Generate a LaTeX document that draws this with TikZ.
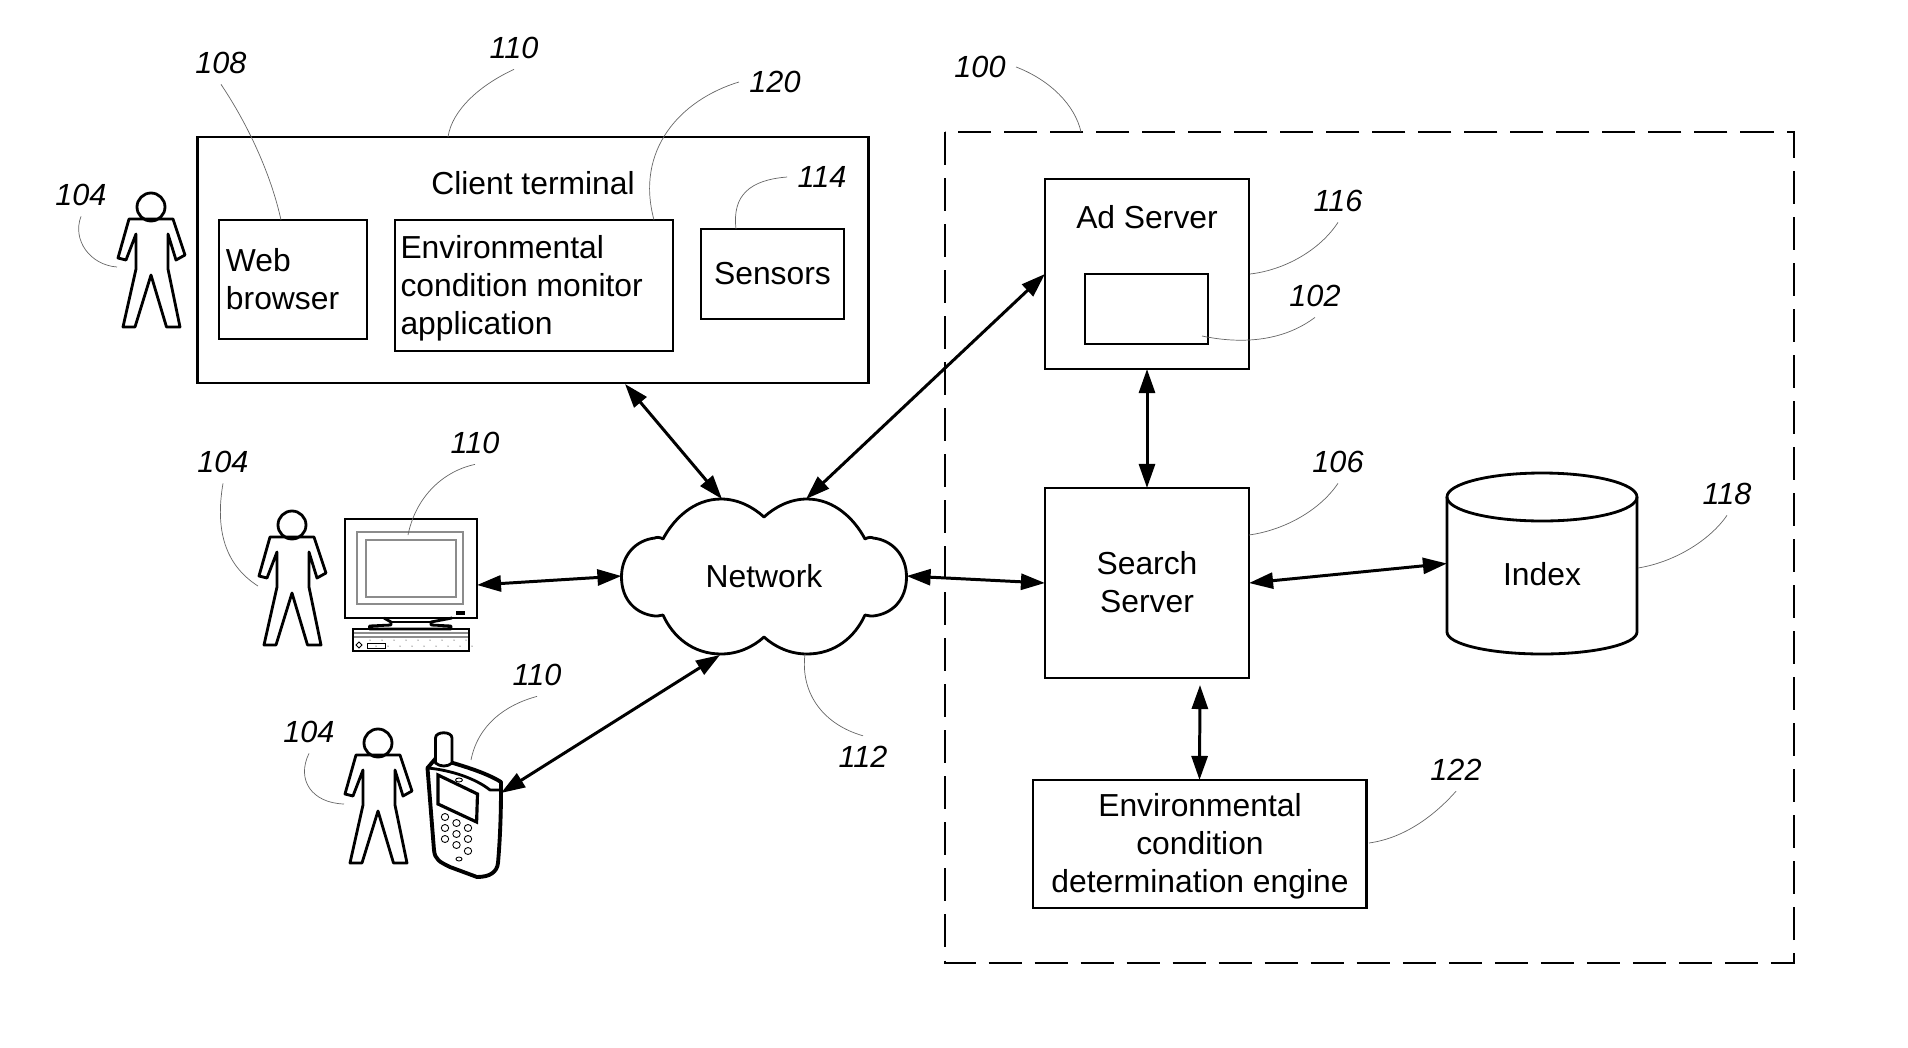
\documentclass[tikz,border=0pt]{standalone}
\usepackage{fontspec}
\setmainfont{Liberation Sans}
\usetikzlibrary{arrows.meta}

\tikzset{
    person/.pic={
        \draw[outline] (0,0) ellipse [x radius=14, y radius=14];
        \draw[outline] (-22,12) -- (-33,51) -- (-25,53) -- (-15,27) -- (-15,62) -- (-28,120) -- (-16,120)
            -- (0,68) -- (15.5,120) -- (29,120) -- (17,62) -- (17,27) -- (25,53) -- (34,48) -- (22,12) -- cycle;
    }
}

\begin{document}
\begin{tikzpicture}[x=.01cm, y=-.01cm, >={Triangle[length=.24cm,width=.16cm]},
    every node/.style={font=\fontsize{9.05}{10.8}\selectfont, outer sep=0pt},
    outline/.style={line width=.8pt, line join=round},
    box/.style={draw, line width=.8pt, inner sep=0pt, align=center},
    textbox/.style={draw, line width=.8pt, inner xsep=.07cm, inner ysep=0pt, align=left},
    refnum/.style={font=\fontsize{8.7}{10.8}\selectfont\itshape, inner sep=3pt},
    leader/.style={line width=.2pt, black!60},
    link/.style={<->, line width=.85pt},
    fine/.style={line width=.3pt, black!45}
    ]
\useasboundingbox (0,0) rectangle (1908,1048);

% client terminal
\node[box, minimum width=6.70cm, minimum height=2.46cm] (client) at (533,260) {};
\node (clientname) at (533,183) {Client terminal};
\node[textbox, text width=1.34cm, minimum height=1.19cm] (web) at (293,279.5) {Web\\browser};
\node[box, minimum width=2.78cm, minimum height=1.31cm] (monitorapp) at (534,285.5) {};
\node[align=left, anchor=west, inner sep=0pt] (monitorname) at (400.5,288.5) {Environmental\\condition monitor\\application};
\node[box, minimum width=1.43cm, minimum height=.90cm] (sensors) at (772.5,274) {Sensors};

% users
\pic at (151,207) {person};
\pic at (292,525) {person};
\pic at (378,743) {person};

% desktop
\node[box, minimum width=1.32cm, minimum height=.99cm] (monitor) at (411,568.5) {};
\draw[fine] (357,604) -- (357,532) -- (463,532) -- (463,604) -- cycle;
\draw[fine] (366,540) rectangle (456,597);
\draw[line width=.4pt] (457,612) rectangle (464,614);
\draw[outline] (384,618) -- (391,622) -- (391,625) -- (369.5,626) -- (369.5,629) -- (451,629) -- (451,626) -- (431,625) -- (431,622) -- (452,618);
\draw[line width=.3pt] (391,622) -- (431,622);
\node[box, minimum width=1.16cm, minimum height=.22cm] (keyboard) at (411,640) {};
\draw[fine] (354,633) -- (468,633) (354,637) -- (468,637);
\draw[line width=.25pt] (359,642) -- (362,645) -- (359,648) -- (356,645) -- cycle;
\draw[line width=.25pt] (367,643) rectangle (385,648);
\foreach \kx in {370,382,...,466} {
    \fill (\kx,640) circle [radius=.5];
    \fill (\kx+6,646) circle [radius=.5];
}

% phone
\draw[line width=1.1pt, line join=round] (427.5,768) -- (436,758) .. controls (460,765) and (485,772) .. (501,782) -- (501,790)
    .. controls (501,815) and (500,840) .. (498,863) .. controls (497,872) and (490,877) .. (477,877)
    -- (450,867) .. controls (440,862) and (435,860) .. (434,850) -- cycle;
\draw[outline] (427.5,768) .. controls (450,770) and (475,778) .. (490,790) -- (501,790);
\draw[outline, fill=white] (435.5,738) .. controls (435.5,731) and (452,731) .. (452,738) -- (452,763) .. controls (448,767) and (440,767) .. (435.5,763) -- cycle;
\draw[line width=.9pt] (438,775) -- (477.5,794) -- (476.6,822) -- (438,804) -- cycle;
\foreach \kx/\ky in {445/817,445/828,445/839,456.5/823,456.5/834,456.5/845,468/828,468/839,468/851} {
    \draw[line width=.25pt] (\kx,\ky) ellipse [x radius=3.7, y radius=3.5];
}
\draw[line width=.25pt] (459,780) ellipse [x radius=3.5, y radius=2];
\draw[line width=.25pt] (459,859) ellipse [x radius=3, y radius=2];

% network cloud
\draw[outline] (764,517) .. controls (775,507) and (790,499) .. (807,499)
    .. controls (835,499) and (855,520) .. (865,539) .. controls (868,537) and (872,537) .. (873,538)
    .. controls (892,540) and (906.5,555) .. (906.5,577) .. controls (906.5,600) and (892,614) .. (873,616)
    .. controls (872,616) and (868,616) .. (865,615) .. controls (855,637) and (835,654) .. (807,654)
    .. controls (790,654) and (775,647) .. (764,637) .. controls (753,647) and (738,654) .. (721,654)
    .. controls (693,654) and (673,637) .. (663,615) .. controls (660,616) and (656,616) .. (655,616)
    .. controls (636,614) and (621.5,600) .. (621.5,577) .. controls (621.5,555) and (636,540) .. (655,538)
    .. controls (656,537) and (660,537) .. (663,539) .. controls (673,520) and (693,499) .. (721,499)
    .. controls (738,499) and (753,507) .. cycle;
\node[minimum width=2.85cm, minimum height=1.55cm, inner sep=0pt] (network) at (764,576) {Network};

% server side
\draw[line width=.8pt, dash pattern=on .33cm off .13cm] (945,132) rectangle (1794,963);
\node[box, minimum width=2.04cm, minimum height=1.90cm] (adserver) at (1147,274) {};
\node (adname) at (1147,217) {Ad Server};
\node[box, minimum width=1.23cm, minimum height=.70cm] (adunit) at (1146.5,309) {};
\node[box, minimum width=2.04cm, minimum height=1.90cm] (search) at (1147,583) {};
\node[align=center] (searchname) at (1147,582) {Search\\Server};
\node[box, minimum width=3.33cm, minimum height=1.28cm] (engine) at (1199.5,844) {};
\node[align=center] (enginename) at (1200,846.5) {Environmental\\condition\\determination engine};
\node[minimum width=1.90cm, minimum height=1.81cm, inner sep=0pt] (index) at (1542,563.5) {};
\node (indexname) at (1542,574) {Index};
\draw[outline] (1447,497) -- (1447,632) arc [start angle=180, end angle=360, x radius=95, y radius=-22] -- (1637,497);
\draw[outline] (1542,497) ellipse [x radius=95, y radius=24];

% free ends of the links
\coordinate (clientport) at (625,384);
\coordinate (monitorport) at (477,585);
\coordinate (phoneport) at (501,793);
\coordinate (netclient) at (722,499);
\coordinate (netad) at (806,499);
\coordinate (netphone) at (720,655);
\coordinate (engineport) at (1200,685);

\path[link]
(clientport) edge (netclient)
(netad) edge (adserver.west)
(monitorport) edge (network.west)
(phoneport) edge (netphone)
(network.east) edge (search.west)
(adserver.south) edge (search.north)
(search.east) edge (index.west)
(engineport) edge (engine.north)
;

% reference numerals
\node[refnum] (n108) at (221,63) {108};
\node[refnum] (n110a) at (514,48) {110};
\node[refnum] (n120) at (775,82) {120};
\node[refnum] (n114) at (822,177) {114};
\node[refnum] (n104a) at (81,195) {104};
\node[refnum] (n110b) at (475,443) {110};
\node[refnum] (n104b) at (223,462) {104};
\node[refnum] (n110c) at (537,675) {110};
\node[refnum] (n104c) at (309,732) {104};
\node[refnum] (n112) at (863,757) {112};
\node[refnum] (n100) at (980,67) {100};
\node[refnum] (n116) at (1338,201) {116};
\node[refnum] (n102) at (1315,296) {102};
\node[refnum] (n106) at (1338,462) {106};
\node[refnum] (n118) at (1727,494) {118};
\node[refnum] (n122) at (1456,770) {122};

\coordinate (e108) at (281,220);
\coordinate (e110a) at (448,137);
\coordinate (e120) at (654,220);
\coordinate (e114) at (736,229);
\coordinate (e104a) at (117,267);
\coordinate (e110b) at (408,535);
\coordinate (e104b) at (258,586);
\coordinate (e110c) at (471,760);
\coordinate (e104c) at (344,804);
\coordinate (e112) at (805,654);
\coordinate (e100) at (1081,132);
\coordinate (e116) at (1250,274);
\coordinate (e102) at (1202,336);
\coordinate (e106) at (1249,535);
\coordinate (e118) at (1638,568);
\coordinate (e122) at (1369,843);

\draw[leader] (n108.south) .. controls (245,120) and (270,170) .. (e108);
\draw[leader] (n110a.south) .. controls (480,85) and (452,110) .. (e110a);
\draw[leader] (n120.west) .. controls (680,100) and (635,150) .. (e120);
\draw[leader] (n114.west) .. controls (750,180) and (732,195) .. (e114);
\draw[leader] (n104a.south) .. controls (72,240) and (90,265) .. (e104a);
\draw[leader] (n110b.south) .. controls (440,472) and (415,500) .. (e110b);
\draw[leader] (n104b.south) .. controls (215,530) and (225,565) .. (e104b);
\draw[leader] (n110c.south) .. controls (505,705) and (478,725) .. (e110c);
\draw[leader] (n104c.south) .. controls (296,780) and (312,803) .. (e104c);
\draw[leader] (n112.north) .. controls (825,725) and (800,695) .. (e112);
\draw[leader] (n100.east) .. controls (1050,80) and (1075,105) .. (e100);
\draw[leader] (n116.south) .. controls (1320,250) and (1285,270) .. (e116);
\draw[leader] (n102.south) .. controls (1285,340) and (1245,345) .. (e102);
\draw[leader] (n106.south) .. controls (1320,510) and (1285,530) .. (e106);
\draw[leader] (n118.south) .. controls (1710,540) and (1675,562) .. (e118);
\draw[leader] (n122.south) .. controls (1435,815) and (1405,838) .. (e122);
\end{tikzpicture}
\end{document}
